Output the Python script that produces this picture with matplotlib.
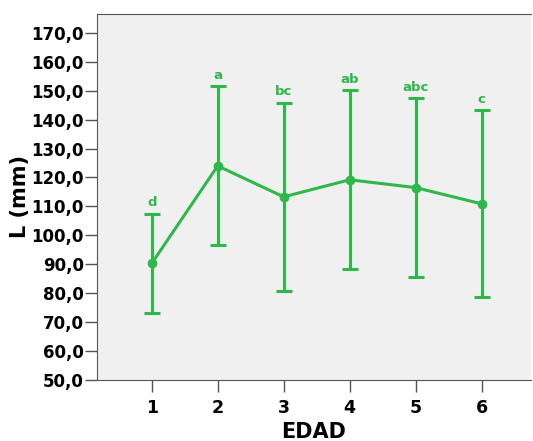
import numpy as np
import matplotlib.pyplot as plt

# data
edad = [1, 2, 3, 4, 5, 6]
media = [90.3, 124.0, 113.3, 119.2, 116.5, 110.9]
sup = [107.5, 151.5, 145.9, 150.3, 147.4, 143.3]
inf = [73.2, 96.6, 80.9, 88.4, 85.5, 78.8]
letras = ['d', 'a', 'bc', 'ab', 'abc', 'c']
yticks = np.arange(50, 171, 10)

verde = '#2fb84a'

fig = plt.figure(figsize=(5.33, 4.41), dpi=100)
ax = fig.add_axes([97 / 533, 1 - 380 / 441, (531 - 97) / 533, (380 - 14) / 441])
ax.set_facecolor('#f0f0f0')

media = np.array(media)
err = [media - np.array(inf), np.array(sup) - media]
ax.errorbar(edad, media, yerr=err, color=verde, lw=2.2, elinewidth=2.2,
            capsize=6, capthick=2.2, marker='o', ms=6, zorder=3)

for x, s, t in zip(edad, sup, letras):
    ax.annotate(t, (x, s), xytext=(0, 3), textcoords='offset points',
                ha='center', va='bottom', color=verde, fontsize=9.5, fontweight='bold')

ax.set_xlim(0.17, 6.75)
ax.set_ylim(50, 176.5)
ax.set_xticks(edad)
ax.set_yticks(yticks)
ax.set_yticklabels([f'{v:.1f}'.replace('.', ',') for v in yticks])
ax.tick_params(length=8.5, width=1, color='#555555', labelsize=12)
ax.tick_params(axis='y', pad=1)
ax.tick_params(axis='x', pad=5, labelsize=12.5)
for lab in ax.get_xticklabels() + ax.get_yticklabels():
    lab.set_fontweight('bold')
for sp in ax.spines.values():
    sp.set_color('#555555')
ax.spines['right'].set_visible(False)

ax.set_xlabel('EDAD', fontsize=15, fontweight='bold', labelpad=4)
ax.set_ylabel('L (mm)', fontsize=15, fontweight='bold', labelpad=1)

fig.savefig('out.png', dpi=100)
